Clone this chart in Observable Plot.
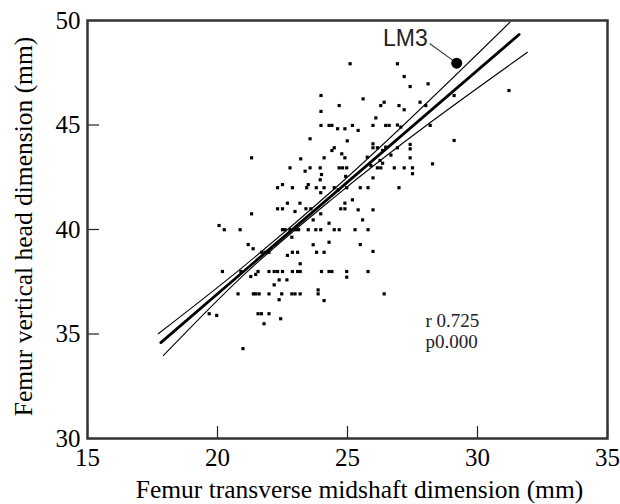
<!DOCTYPE html>
<html><head><meta charset="utf-8">
<script src="https://cdn.jsdelivr.net/npm/d3@7"></script>
<script src="https://cdn.jsdelivr.net/npm/@observablehq/plot@0.6"></script>
<style>body{margin:0;background:#fff}</style>
</head><body><div id="chart"></div>
<script>
// Femur transverse midshaft dimension (mm)
const midshaft = [23.98,24.68,23.98,23.98,24.29,24.40,24.62,24.90,23.56,24.99,24.49,24.40,21.31,23.20,24.10,24.78,24.90,22.79,23.56,23.37,23.95,24.68,24.81,24.97,24.00,23.95,22.50,22.31,22.88,23.43,23.49,23.80,24.10,24.49,24.64,23.97,22.69,23.17,22.31,22.50,23.40,23.59,24.74,24.90,24.90,
25.10,26.92,27.18,27.41,28.10,25.60,26.41,26.28,26.98,27.79,27.18,28.01,29.10,26.09,25.19,25.41,25.98,26.47,26.60,26.92,27.05,28.18,25.98,25.98,26.15,26.35,26.47,26.67,26.92,27.41,27.41,27.41,29.10,25.76,26.25,26.35,26.15,26.28,26.80,27.18,27.50,27.50,28.27,25.90,24.93,25.98,
22.98,23.97,21.31,20.06,20.26,20.87,22.50,22.60,22.79,23.01,23.12,23.49,23.78,23.97,24.29,24.49,24.68,23.68,22.86,21.18,21.37,21.70,21.83,21.98,22.69,22.88,23.08,23.68,23.81,24.10,24.29,23.18,20.19,20.90,21.56,21.98,22.18,22.31,22.50,22.88,23.08,23.18,24.00,24.29,24.40,24.97,24.97,21.28,21.47,22.37,22.67,22.18,20.79,21.38,21.47,21.60,21.98,22.47,22.86,22.98,23.18,23.87,23.87,24.10,22.37,19.68,19.97,21.56,21.69,21.98,22.43,21.79,
25.49,25.79,26.98,25.19,25.41,25.98,25.58,25.29,25.79,25.49,25.98,25.79,26.41,31.21,20.98,24.97];
// Femur vertical head dimension (mm)
const headDim = [46.41,45.93,45.65,44.98,44.98,44.98,44.82,44.82,44.34,44.24,43.91,43.78,43.43,43.38,43.43,43.62,43.43,42.95,42.95,42.79,42.95,42.95,42.95,42.95,42.63,42.38,42.15,42.00,42.00,42.00,42.15,42.00,42.00,42.00,41.90,41.76,41.26,41.26,40.99,40.99,40.99,40.99,40.99,40.99,41.26,
47.93,47.93,47.32,46.84,46.97,46.25,46.09,45.93,45.93,46.09,45.73,45.93,46.41,45.34,44.98,44.74,44.98,44.98,44.98,45.00,44.90,44.98,44.10,43.91,43.91,43.78,43.94,43.56,43.91,44.07,43.86,43.43,44.26,43.46,43.30,43.17,42.95,42.95,42.95,42.95,42.95,42.67,43.14,43.06,42.54,42.47,
40.86,40.75,40.75,40.19,39.99,39.99,39.99,39.99,39.99,39.99,39.99,39.99,39.99,39.99,40.30,39.99,39.99,40.46,39.63,39.28,39.08,38.91,38.91,38.91,38.76,38.91,38.91,39.27,38.91,38.91,39.39,38.36,37.99,37.99,37.99,37.99,37.99,37.99,37.99,37.99,37.99,37.99,37.99,37.99,37.99,37.99,37.72,37.75,37.85,37.59,37.59,37.35,36.92,36.92,36.92,36.92,36.92,36.92,36.92,36.92,36.92,37.11,36.92,36.60,36.64,35.97,35.89,35.97,35.97,35.97,35.73,35.49,
42.00,42.00,42.00,41.42,40.94,40.94,40.46,39.99,39.99,39.28,38.95,37.99,36.92,46.65,34.30,42.00];

// Regression line and confidence band
const fitX = [17.82, 31.6];
const fitY = [34.59, 49.33];
const upperX = [17.72, 20.9, 24.5, 31.25];
const upperY = [35.01, 38.13, 41.95, 49.92];
const lowerX = [17.92, 20.9, 24.5, 31.92];
const lowerY = [33.97, 37.70, 41.55, 48.48];

// Highlighted specimen
const highlightName = ["LM3"];
const highlightX = [29.2];
const highlightY = [47.96];

const xTicks = [15, 20, 25, 30, 35];
const yTicks = [30, 35, 40, 45, 50];
const xTitle = "Femur transverse midshaft dimension (mm)";
const yTitle = "Femur vertical head dimension (mm)";
const statsText = ["r 0.725", "p0.000"];
const statsX = 28.0, statsY = 36.05;

const pts = midshaft.map((x, i) => ({x, y: headDim[i]}));
const fit = fitX.map((x, i) => ({x, y: fitY[i]}));
const upper = upperX.map((x, i) => ({x, y: upperY[i]}));
const lower = lowerX.map((x, i) => ({x, y: lowerY[i]}));
const hi = highlightName.map((name, i) => ({name, x: highlightX[i], y: highlightY[i]}));

const serif = "'Liberation Serif', 'Times New Roman', serif";
const sans = "'Liberation Sans', Arial, sans-serif";
const leader = {draw(ctx, l) { ctx.moveTo(0, 0); ctx.lineTo(0, -l); }};

const chart = Plot.plot({
  width: 620, height: 504,
  marginLeft: 87, marginRight: 13, marginTop: 20, marginBottom: 66,
  style: {fontFamily: serif, fontSize: "25px", color: "#000", background: "#fff"},
  x: {domain: [15, 35], ticks: xTicks},
  y: {domain: [30, 50], ticks: yTicks},
  marks: [
    Plot.axisX({ticks: xTicks, tickSize: -12, tickPadding: 22, label: null, fontSize: 25, stroke: "#222", strokeWidth: 1.2}),
    Plot.axisY({ticks: yTicks, tickSize: -12, tickPadding: 19, label: null, fontSize: 25, stroke: "#222", strokeWidth: 1.2}),
    Plot.dot(pts, {x: "x", y: "y", symbol: "square", r: 1.8, fill: "#000", stroke: null}),
    Plot.line(upper, {x: "x", y: "y", curve: "monotone-x", stroke: "#000", strokeWidth: 1.1}),
    Plot.line(lower, {x: "x", y: "y", curve: "monotone-x", stroke: "#000", strokeWidth: 1.1}),
    Plot.line(fit, {x: "x", y: "y", stroke: "#000", strokeWidth: 2.8}),
    Plot.vector(hi, {x: "x", y: "y", length: 33, rotate: -54, anchor: "start", shape: leader, stroke: "#333", strokeWidth: 1}),
    Plot.dot(hi, {x: "x", y: "y", r: 5.5, fill: "#000", stroke: null}),
    Plot.text(hi, {x: "x", y: "y", text: "name", textAnchor: "end", dx: -29, dy: -25, fontFamily: sans, fontSize: 23, fill: "#222"}),
    Plot.text([statsText.join("\n")], {x: statsX, y: statsY, textAnchor: "start", lineAnchor: "top", lineHeight: 1.1, fontFamily: serif, fontSize: 19, fill: "#222"}),
    Plot.text([xTitle], {frameAnchor: "bottom", textAnchor: "middle", dx: 12, dy: 51, lineAnchor: "middle", fontSize: 25.5, fill: "#000"}),
    Plot.text([yTitle], {frameAnchor: "left", textAnchor: "middle", dx: -64, dy: -3, rotate: -90, lineAnchor: "middle", fontSize: 25.5, fill: "#000"}),
    Plot.frame({stroke: "#333", strokeWidth: 2.5})
  ]
});
document.getElementById("chart").append(chart);
</script>
</body></html>
